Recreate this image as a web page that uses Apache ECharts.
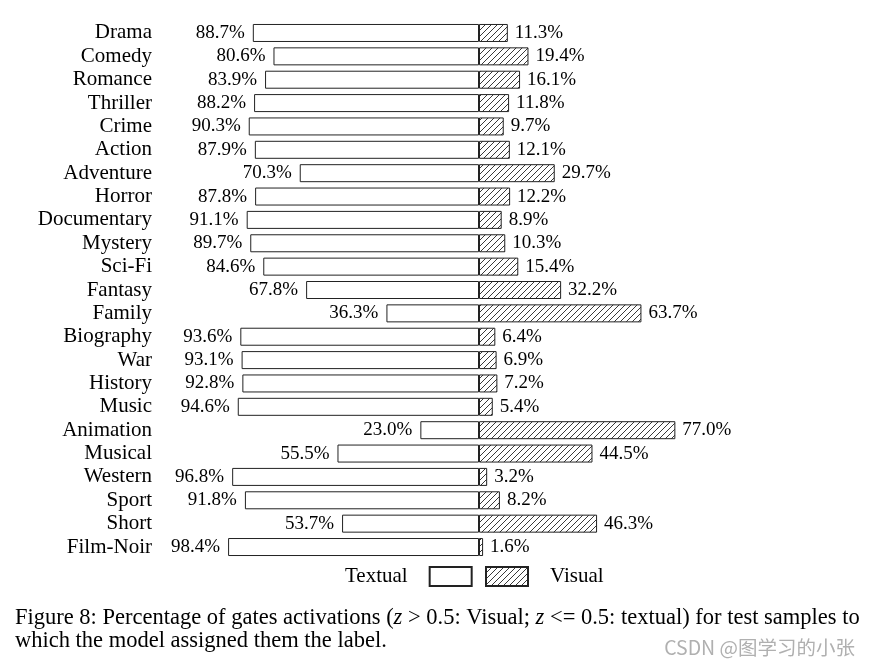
<!DOCTYPE html>
<html><head><meta charset="utf-8">
<script src="https://cdn.jsdelivr.net/npm/echarts@6/dist/echarts.min.js"></script>
<style>html,body{margin:0;padding:0;background:#fff}#c{width:871px;height:667px}</style>
</head><body><div id="c"></div>
<script>
const categories = ['Drama','Comedy','Romance','Thriller','Crime','Action','Adventure','Horror','Documentary','Mystery','Sci-Fi','Fantasy','Family','Biography','War','History','Music','Animation','Musical','Western','Sport','Short','Film-Noir'];
const textual = [88.7,80.6,83.9,88.2,90.3,87.9,70.3,87.8,91.1,89.7,84.6,67.8,36.3,93.6,93.1,92.8,94.6,23.0,55.5,96.8,91.8,53.7,98.4];
const visual = [11.3,19.4,16.1,11.8,9.7,12.1,29.7,12.2,8.9,10.3,15.4,32.2,63.7,6.4,6.9,7.2,5.4,77.0,44.5,3.2,8.2,46.3,1.6];

const FONT = '"Liberation Serif","DejaVu Serif",serif';
function hatch(){
  const s = 6, cv = document.createElement('canvas');
  cv.width = s; cv.height = s;
  const g = cv.getContext('2d');
  g.fillStyle = '#fff'; g.fillRect(0,0,s,s);
  g.strokeStyle = '#222'; g.lineWidth = 0.9;
  g.beginPath();
  g.moveTo(0,s); g.lineTo(s,0);
  g.moveTo(-1,1); g.lineTo(1,-1);
  g.moveTo(s-1,s+1); g.lineTo(s+1,s-1);
  g.stroke();
  return {image: cv, repeat: 'repeat'};
}
const pat = hatch();
const chart = echarts.init(document.getElementById('c'), null, {renderer:'canvas'});
chart.setOption({
  animation:false,
  backgroundColor:'#fff',
  grid:{left:224, width:510, top:21.3, height:537.4},
  xAxis:{type:'value', min:-100, max:100, show:false},
  yAxis:{type:'category', data:categories, inverse:true,
    axisLine:{show:false, onZero:false}, axisTick:{show:false}, splitLine:{show:false},
    axisLabel:{interval:0, margin:72, color:'#000', fontFamily:FONT, fontSize:21, padding:[3,0,0,0]}},
  legend:[
    {data:[{name:'Textual', icon:'rect'}], left:340, top:561, align:'right', itemWidth:42, itemHeight:19, itemGap:0,
     textStyle:{fontFamily:FONT, fontSize:21, color:'#000', padding:[0,17,0,0]}},
    {data:[{name:'Visual', icon:'rect'}], left:480, top:561, align:'left', itemWidth:42, itemHeight:19,
     textStyle:{fontFamily:FONT, fontSize:21, color:'#000', padding:[0,0,0,17]}}
  ],
  series:[
    {name:'Textual', type:'bar', stack:'s', barWidth:18,
     data:textual.map(v=>-v),
     itemStyle:{color:'#fff', borderColor:'#222', borderWidth:1},
     label:{show:true, position:'left', distance:8, fontFamily:FONT, fontSize:19, color:'#000',
       padding:[3,0,0,0], formatter:p=>Math.abs(p.value).toFixed(1)+'%'}},
    {name:'Visual', type:'bar', stack:'s', barWidth:18,
     data:visual,
     itemStyle:{color:pat, borderColor:'#222', borderWidth:1},
     label:{show:true, position:'right', distance:7, fontFamily:FONT, fontSize:19, color:'#000',
       padding:[3,0,0,0], formatter:p=>p.value.toFixed(1)+'%'}}
  ],
  graphic:[
    {type:'text', left:15, top:607, style:{
      text:'Figure 8: Percentage of gates activations ({i|z} > 0.5: Visual; {i|z} <= 0.5: textual) for test samples to',
      font:'22.5px '+FONT, fill:'#000',
      rich:{i:{fontStyle:'italic', fontFamily:FONT, fontSize:22.5}}}},
    {type:'text', left:15, top:630, style:{
      text:'which the model assigned them the label.', font:'22.5px '+FONT, fill:'#000'}},
    {type:'text', right:16, top:638, style:{
      text:'CSDN @图学习的小张', font:'19.5px "Noto Sans CJK SC","Noto Sans",sans-serif', fill:'#b0b0b0'}}
  ]
});
</script></body></html>
